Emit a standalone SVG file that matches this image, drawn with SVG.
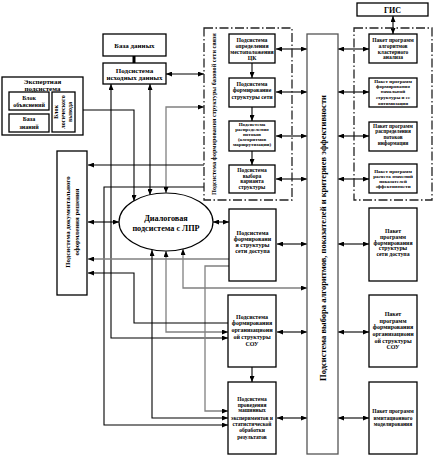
<svg xmlns="http://www.w3.org/2000/svg" width="435" height="459" viewBox="0 0 435 459">
<defs>
<marker id="ah" viewBox="0 0 6 5" refX="6" refY="2.5" markerWidth="6" markerHeight="5" markerUnits="userSpaceOnUse" orient="auto-start-reverse">
<path d="M0,0 L6,2.5 L0,5 z" fill="#000"/>
</marker>
<style>
.b{fill:#fff;stroke:#000;stroke-width:1.3}
.dg{fill:none;stroke:#222;stroke-width:1.3;stroke-dasharray:9 2.5 1.5 2.5}
.tall{fill:#fff;stroke:#555;stroke-width:1.3}
.t{font-family:"Liberation Serif","Times New Roman",serif;font-weight:bold;text-anchor:middle;fill:#000}
.c{fill:none;stroke:#000;stroke-width:1.1}
.g{fill:none;stroke:#808080;stroke-width:1.3}
.ss{marker-start:url(#ah)}
.se{marker-end:url(#ah)}
</style>
</defs>
<rect width="435" height="459" fill="#fff"/>

<g id="connectors">
<line class="c" x1="134" y1="56" x2="134" y2="63" style="stroke-width:3"/>
<line class="c ss se" x1="393" y1="16" x2="393" y2="34"/>
<line class="c ss se" x1="166" y1="74" x2="204" y2="74"/>
<polyline class="c se" points="83,110 134,110 134,201"/>
<line class="c ss se" x1="150" y1="84" x2="150" y2="195"/>
<polyline class="c ss se" points="111,84 111,338 228,338"/>
<polyline class="g ss se" points="204,107 166,107 166,193"/>
<line class="c se" x1="204" y1="165" x2="88" y2="165"/>
<polyline class="c se" points="204,187 104,187 104,425 228,425"/>
<line class="c ss se" x1="88" y1="222" x2="119" y2="222"/>
<line class="c ss se" x1="213" y1="222" x2="229" y2="222"/>
<line class="g se" x1="229" y1="259" x2="88" y2="259"/>
<polyline class="g se" points="229,266 205,266 205,411 228,411"/>
<polyline class="g ss se" points="183,249 183,288 307,288"/>
<polyline class="g ss se" points="166,251 166,332 228,332"/>
<polyline class="c ss se" points="152,250 152,418 228,418"/>
<polyline class="c se" points="228,323 134,323 134,273 88,273"/>
<line class="c se" x1="252" y1="367" x2="252" y2="382"/>
<line class="c se" x1="252" y1="63" x2="252" y2="78"/>
<line class="c se" x1="252" y1="107" x2="252" y2="121"/>
<line class="c se" x1="252" y1="151" x2="252" y2="165"/>
<line class="c ss se" x1="276" y1="49" x2="307" y2="49"/>
<line class="c ss se" x1="276" y1="92" x2="307" y2="92"/>
<line class="c ss se" x1="276" y1="136" x2="307" y2="136"/>
<line class="c ss se" x1="276" y1="179" x2="307" y2="179"/>
<line class="c ss se" x1="277" y1="244" x2="307" y2="244"/>
<line class="c ss se" x1="277" y1="332" x2="307" y2="332"/>
<line class="c ss se" x1="277" y1="418" x2="307" y2="418"/>
<line class="c ss se" x1="338" y1="49" x2="369" y2="49"/>
<line class="c ss se" x1="338" y1="92" x2="369" y2="92"/>
<line class="c ss se" x1="338" y1="136" x2="369" y2="136"/>
<line class="c ss se" x1="338" y1="179" x2="369" y2="179"/>
<line class="c ss se" x1="338" y1="244" x2="369" y2="244"/>
<line class="c ss se" x1="338" y1="332" x2="369" y2="332"/>
<line class="c ss se" x1="338" y1="418" x2="369" y2="418"/>
</g>

<g id="gis">
<rect class="b" x="357" y="3" width="71" height="13"/>
<text class="t" x="392.5" y="12.8" font-size="8">ГИС</text>
</g>

<g id="database">
<rect class="b" x="103" y="34" width="63" height="22"/>
<text class="t" x="134.5" y="47.5" font-size="7">База данных</text>
</g>

<g id="source-data">
<rect class="b" x="103" y="63" width="63" height="21"/>
<text class="t" font-size="7"><tspan x="134.5" y="72.5">Подсистема</tspan><tspan x="134.5" y="80">исходных данных</tspan></text>
</g>

<g id="expert">
<rect class="b" x="2" y="77" width="81" height="58"/>
<text class="t" font-size="7"><tspan x="42.5" y="83.5">Экспертная</tspan><tspan x="42.5" y="90.5">подсистема</tspan></text>
<rect class="b" x="9" y="92" width="40" height="18"/>
<text class="t" font-size="6"><tspan x="29" y="99.5">Блок</tspan><tspan x="29" y="106.5">объяснений</tspan></text>
<rect class="b" x="9" y="114" width="40" height="18"/>
<text class="t" font-size="6"><tspan x="29" y="120.5">База</tspan><tspan x="29" y="129">знаний</tspan></text>
<rect class="b" x="52" y="92" width="23" height="40"/>
<text class="t" font-size="6" transform="translate(63.5,112) rotate(-90)"><tspan x="0" y="-5.5">Блок</tspan><tspan x="0" y="1.5">логического</tspan><tspan x="0" y="8.5">вывода</tspan></text>
</g>

<g id="documentation">
<rect class="b" x="57" y="151" width="30" height="144"/>
<text class="t" font-size="6.8" transform="translate(72,222) rotate(-90)"><tspan x="0" y="-2.5">Подсистема документального</tspan><tspan x="0" y="7.3">оформления решения</tspan></text>
</g>

<g id="dialog">
<ellipse cx="166" cy="222" rx="47" ry="29" fill="#fff" stroke="#000" stroke-width="1.2"/>
<text class="t" font-size="8.2"><tspan x="166" y="221">Диалоговая</tspan><tspan x="166" y="231">подсистема с ЛПР</tspan></text>
</g>

<g id="base-network-group">
<rect class="dg" x="204" y="28" width="88" height="172"/>
<text class="t" font-size="6.2" transform="translate(215.5,114) rotate(-90)">Подсистема формирования структуры базовой сети связи</text>
</g>

<g id="location">
<rect class="b" x="229" y="34" width="46" height="29"/>
<text class="t" font-size="5.8"><tspan x="252" y="42">Подсистема</tspan><tspan x="252" y="48">определения</tspan><tspan x="252" y="54">местоположения</tspan><tspan x="252" y="60">ЦК</tspan></text>
</g>

<g id="net-structure">
<rect class="b" x="229" y="78" width="46" height="29"/>
<text class="t" font-size="5.8"><tspan x="252" y="85.5">Подсистема</tspan><tspan x="252" y="92">формирование</tspan><tspan x="252" y="98.5">структуры сети</tspan></text>
</g>

<g id="flows">
<rect class="b" x="229" y="121" width="46" height="30"/>
<text class="t" font-size="5"><tspan x="252" y="126.3">Подсистема</tspan><tspan x="252" y="131.3">распределения</tspan><tspan x="252" y="136.3">потоков</tspan><tspan x="252" y="141.3">(алгоритмов</tspan><tspan x="252" y="146.3">маршрутизации)</tspan></text>
</g>

<g id="variant">
<rect class="b" x="229" y="165" width="46" height="28"/>
<text class="t" font-size="5.5"><tspan x="252" y="172">Подсистема</tspan><tspan x="252" y="177.5">выбора</tspan><tspan x="252" y="183">варианта</tspan><tspan x="252" y="189">структуры</tspan></text>
</g>

<g id="access">
<rect class="b" x="229" y="209" width="47" height="72"/>
<text class="t" font-size="6"><tspan x="252.5" y="234.7">Подсистема</tspan><tspan x="252.5" y="240.5">формировани</tspan><tspan x="252.5" y="246.5">я структуры</tspan><tspan x="252.5" y="252.7">сети доступа</tspan></text>
</g>

<g id="org">
<rect class="b" x="228" y="295" width="48" height="72"/>
<text class="t" font-size="6"><tspan x="252" y="318.7">Подсистема</tspan><tspan x="252" y="325.3">формирования</tspan><tspan x="252" y="332">организационн</tspan><tspan x="252" y="338.7">ой структуры</tspan><tspan x="252" y="346">СОУ</tspan></text>
</g>

<g id="experiments">
<rect class="b" x="228" y="382" width="48" height="72"/>
<text class="t" font-size="5.5"><tspan x="252" y="400.8">Подсистема</tspan><tspan x="252" y="406.5">проведения</tspan><tspan x="252" y="412">машинных</tspan><tspan x="252" y="420">экспериментов и</tspan><tspan x="252" y="425.8">статистической</tspan><tspan x="252" y="431.8">обработки</tspan><tspan x="252" y="438.5">результатов</tspan></text>
</g>

<g id="selection">
<rect class="tall" x="307" y="34" width="31" height="420"/>
<text class="t" font-size="8.5" transform="translate(322.5,238) rotate(-90)" y="3">Подсистема выбора алгоритмов, показателей и критериев эффективности</text>
</g>

<g id="packages-group">
<rect class="dg" x="354" y="28" width="78" height="172"/>
</g>

<g id="pkg-cluster">
<rect class="b" x="369" y="34" width="48" height="29"/>
<text class="t" font-size="5.5"><tspan x="393" y="42">Пакет программ</tspan><tspan x="393" y="48">алгоритмов</tspan><tspan x="393" y="53.7">кластерного</tspan><tspan x="393" y="59.3">анализа</tspan></text>
</g>

<g id="pkg-initial">
<rect class="b" x="369" y="78" width="48" height="29"/>
<text class="t" font-size="5"><tspan x="393" y="82.8">Пакет программ</tspan><tspan x="393" y="87.7">формирования</tspan><tspan x="393" y="92.7">начальной</tspan><tspan x="393" y="98.5">структуры и ее</tspan><tspan x="393" y="104.5">оптимизации</tspan></text>
</g>

<g id="pkg-flows">
<rect class="b" x="369" y="122" width="48" height="29"/>
<text class="t" font-size="5.3"><tspan x="393" y="128">Пакет программ</tspan><tspan x="393" y="133">распределения</tspan><tspan x="393" y="138.7">потоков</tspan><tspan x="393" y="145">информации</tspan></text>
</g>

<g id="pkg-efficiency">
<rect class="b" x="369" y="164" width="48" height="29"/>
<text class="t" font-size="5"><tspan x="393" y="172.8">Пакет программ</tspan><tspan x="393" y="177.5">расчета значений</tspan><tspan x="393" y="182.8">показателей</tspan><tspan x="393" y="187.8">эффективности</tspan></text>
</g>

<g id="pkg-access">
<rect class="b" x="369" y="208" width="48" height="73"/>
<text class="t" font-size="5.8"><tspan x="393" y="233">Пакет</tspan><tspan x="393" y="238.7">программ</tspan><tspan x="393" y="244.7">формирования</tspan><tspan x="393" y="249.7">структуры</tspan><tspan x="393" y="256">сети доступа</tspan></text>
</g>

<g id="pkg-org">
<rect class="b" x="369" y="295" width="48" height="72"/>
<text class="t" font-size="6"><tspan x="393" y="316">Пакет</tspan><tspan x="393" y="322.7">программ</tspan><tspan x="393" y="329.3">формирования</tspan><tspan x="393" y="336">организационн</tspan><tspan x="393" y="342.7">ой структуры</tspan><tspan x="393" y="349">СОУ</tspan></text>
</g>

<g id="pkg-simulation">
<rect class="b" x="369" y="382" width="48" height="72"/>
<text class="t" font-size="5.5"><tspan x="393" y="413">Пакет программ</tspan><tspan x="393" y="419.7">имитационного</tspan><tspan x="393" y="426">моделирования</tspan></text>
</g>
</svg>
